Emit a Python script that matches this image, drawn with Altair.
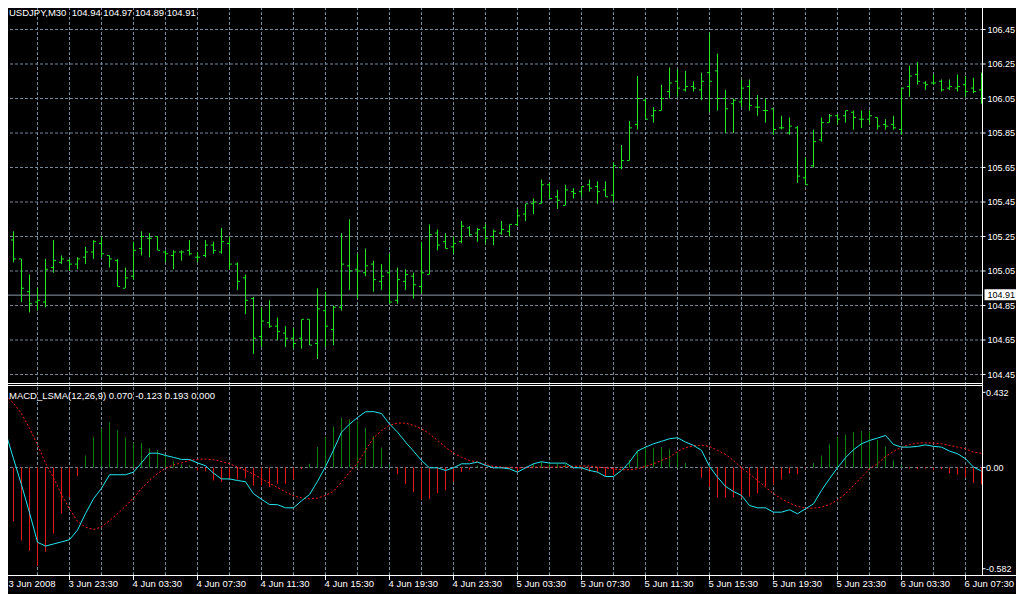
import altair as alt
import pandas as pd

# ---------------- data (USDJPY M30, 3 Jun 2008 19:30 .. 6 Jun 2008 08:30) ----------------
opens = [105.25, 105.23, 105.12, 104.93, 104.87, 104.87, 105.07, 105.10, 105.11, 105.09,
         105.13, 105.16, 105.21, 105.14, 105.11, 104.95, 105.02, 105.18, 105.24, 105.25,
         105.16, 105.14, 105.16, 105.17, 105.13, 105.14, 105.20, 105.16, 105.21, 105.09,
         105.01, 104.89, 104.67, 104.75, 104.73, 104.69, 104.66, 104.66, 104.77, 104.63,
         104.82, 104.71, 104.84, 105.08, 105.06, 105.04, 105.09, 104.99, 105.04, 104.88,
         104.99, 105.02, 104.96, 105.03, 105.27, 105.22, 105.19, 105.22, 105.30, 105.27,
         105.30, 105.25, 105.27, 105.28, 105.32, 105.38, 105.44, 105.44, 105.55, 105.48,
         105.43, 105.51, 105.51, 105.55, 105.54, 105.52, 105.49, 105.65, 105.69, 105.90,
         106.04, 105.95, 105.98, 106.09, 106.15, 106.10, 106.12, 106.10, 106.20, 106.21,
         106.05, 106.02, 106.03, 106.12, 106.00, 105.98, 105.99, 105.88, 105.85, 105.88,
         105.59, 105.66, 105.81, 105.91, 105.95, 105.95, 105.97, 105.93, 105.93, 105.94,
         105.90, 105.90, 105.87, 106.12, 106.19, 106.14, 106.14, 106.15, 106.11, 106.11,
         106.13, 106.11, 106.10]
highs = [105.31, 105.28, 105.12, 105.03, 104.95, 105.12, 105.23, 105.14, 105.12, 105.13,
         105.19, 105.23, 105.25, 105.14, 105.12, 105.07, 105.22, 105.28, 105.27, 105.25,
         105.17, 105.17, 105.17, 105.23, 105.16, 105.23, 105.22, 105.30, 105.25, 105.10,
         105.03, 104.90, 104.84, 104.88, 104.78, 104.73, 104.72, 104.77, 104.77, 104.95,
         104.93, 104.85, 105.27, 105.35, 105.15, 105.18, 105.11, 105.09, 105.15, 105.07,
         105.06, 105.04, 105.22, 105.32, 105.29, 105.27, 105.25, 105.34, 105.31, 105.30,
         105.32, 105.29, 105.34, 105.32, 105.41, 105.44, 105.47, 105.58, 105.56, 105.52,
         105.55, 105.53, 105.54, 105.58, 105.57, 105.57, 105.68, 105.78, 105.92, 106.18,
         106.05, 106.00, 106.13, 106.23, 106.22, 106.21, 106.15, 106.20, 106.43, 106.31,
         106.10, 106.05, 106.16, 106.16, 106.07, 106.05, 105.99, 105.95, 105.94, 105.89,
         105.71, 105.87, 105.94, 105.96, 105.96, 105.98, 105.98, 105.98, 105.98, 105.94,
         105.93, 105.95, 106.11, 106.24, 106.26, 106.15, 106.19, 106.16, 106.16, 106.19,
         106.18, 106.17, 106.20]
lows = [105.21, 105.10, 104.87, 104.81, 104.82, 104.84, 105.04, 105.09, 105.05, 105.06,
        105.09, 105.12, 105.13, 105.07, 104.96, 104.95, 105.00, 105.14, 105.13, 105.17,
        105.10, 105.06, 105.11, 105.14, 105.10, 105.13, 105.15, 105.15, 105.06, 104.94,
        104.80, 104.57, 104.61, 104.72, 104.65, 104.61, 104.60, 104.60, 104.62, 104.54,
        104.61, 104.62, 104.82, 104.94, 104.89, 105.02, 104.93, 104.94, 104.86, 104.86,
        104.94, 104.89, 104.92, 105.03, 105.17, 105.18, 105.15, 105.21, 105.25, 105.22,
        105.21, 105.20, 105.26, 105.25, 105.31, 105.34, 105.38, 105.44, 105.47, 105.41,
        105.43, 105.47, 105.48, 105.51, 105.44, 105.48, 105.45, 105.64, 105.69, 105.87,
        105.93, 105.91, 105.98, 106.05, 106.06, 106.09, 106.09, 106.04, 105.97, 105.98,
        105.85, 105.85, 106.00, 105.98, 105.95, 105.91, 105.84, 105.87, 105.84, 105.56,
        105.55, 105.65, 105.80, 105.91, 105.90, 105.91, 105.87, 105.88, 105.90, 105.87,
        105.87, 105.87, 105.84, 106.06, 106.13, 106.10, 106.13, 106.09, 106.10, 106.09,
        106.06, 106.08, 106.02]
closes = [105.24, 105.12, 104.95, 104.86, 104.88, 105.06, 105.11, 105.12, 105.09, 105.12,
          105.16, 105.22, 105.15, 105.12, 104.96, 105.01, 105.17, 105.25, 105.24, 105.17,
          105.15, 105.16, 105.16, 105.15, 105.13, 105.20, 105.17, 105.22, 105.09, 104.99,
          104.88, 104.66, 104.76, 104.73, 104.70, 104.66, 104.63, 104.77, 104.62, 104.83,
          104.73, 104.84, 105.09, 105.05, 105.05, 105.08, 105.00, 105.02, 104.87, 105.00,
          105.03, 104.97, 105.04, 105.26, 105.20, 105.18, 105.21, 105.31, 105.26, 105.29,
          105.24, 105.28, 105.29, 105.32, 105.37, 105.44, 105.45, 105.55, 105.47, 105.46,
          105.52, 105.50, 105.54, 105.53, 105.51, 105.48, 105.66, 105.69, 105.88, 106.05,
          105.93, 105.98, 106.05, 106.14, 106.11, 106.12, 106.11, 106.15, 106.15, 106.05,
          105.99, 106.04, 106.11, 106.01, 106.00, 105.98, 105.87, 105.88, 105.89, 105.60,
          105.55, 105.80, 105.91, 105.95, 105.93, 105.98, 105.94, 105.93, 105.95, 105.89,
          105.89, 105.88, 106.11, 106.18, 106.15, 106.13, 106.14, 106.10, 106.12, 106.12,
          106.09, 106.09, 106.05]

macd_main = [0.203, 0.050, -0.100, -0.260, -0.430, -0.452, -0.440, -0.428, -0.415, -0.360,
             -0.265, -0.180, -0.120, -0.042, -0.042, -0.042, -0.027, 0.027, 0.082, 0.082,
             0.069, 0.058, 0.046, 0.046, 0.026, 0.010, -0.033, -0.066, -0.066, -0.075,
             -0.082, -0.151, -0.183, -0.213, -0.214, -0.232, -0.232, -0.192, -0.156, -0.080,
             0.005, 0.100, 0.203, 0.249, 0.287, 0.320, 0.321, 0.310, 0.250, 0.203,
             0.146, 0.094, 0.040, -0.002, -0.002, -0.017, -0.002, 0.021, 0.021, 0.031,
             0.012, -0.002, -0.002, -0.008, -0.027, -0.002, 0.021, 0.033, 0.025, 0.025,
             0.025, -0.002, -0.002, -0.017, -0.027, -0.052, -0.052, -0.017, 0.031, 0.094,
             0.117, 0.136, 0.150, 0.165, 0.171, 0.146, 0.127, 0.098, 0.006, -0.056,
             -0.109, -0.138, -0.161, -0.219, -0.232, -0.232, -0.257, -0.257, -0.243, -0.266,
             -0.238, -0.209, -0.132, -0.065, -0.002, 0.056, 0.102, 0.136, 0.155, 0.169,
             0.184, 0.132, 0.117, 0.117, 0.121, 0.130, 0.121, 0.117, 0.094, 0.079,
             0.050, 0.002, -0.021]
macd_signal = [0.414, 0.370, 0.310, 0.225, 0.130, 0.025, -0.060, -0.155, -0.238, -0.310,
               -0.343, -0.357, -0.342, -0.305, -0.266, -0.223, -0.175, -0.122, -0.075, -0.035,
               -0.005, 0.015, 0.026, 0.040, 0.047, 0.048, 0.045, 0.034, 0.022, 0.002,
               -0.017, -0.038, -0.065, -0.091, -0.115, -0.140, -0.163, -0.175, -0.180, -0.176,
               -0.161, -0.137, -0.084, -0.028, 0.026, 0.098, 0.170, 0.212, 0.242, 0.255,
               0.255, 0.242, 0.222, 0.194, 0.155, 0.117, 0.082, 0.059, 0.040, 0.031,
               0.017, 0.006, 0.002, -0.002, -0.002, -0.002, 0.002, 0.002, 0.002, 0.002,
               0.006, 0.006, 0.008, 0.008, 0.002, -0.002, -0.008, -0.013, -0.013, -0.008,
               0.006, 0.021, 0.040, 0.059, 0.092, 0.113, 0.125, 0.128, 0.121, 0.098,
               0.075, 0.040, -0.002, -0.036, -0.075, -0.113, -0.151, -0.180, -0.205, -0.224,
               -0.234, -0.234, -0.228, -0.213, -0.186, -0.151, -0.104, -0.056, -0.008, 0.021,
               0.063, 0.092, 0.117, 0.132, 0.140, 0.142, 0.140, 0.136, 0.127, 0.117,
               0.107, 0.088, 0.082]
macd_hist = [-0.203, -0.309, -0.420, -0.479, -0.566, -0.485, -0.380, -0.265, -0.172, -0.050,
             0.069, 0.174, 0.222, 0.261, 0.215, 0.172, 0.140, 0.140, 0.111, 0.100,
             0.069, 0.035, 0.017, 0.012, -0.017, -0.023, -0.075, -0.084, -0.065, -0.069,
             -0.061, -0.104, -0.104, -0.113, -0.094, -0.094, -0.069, -0.008, 0.021, 0.117,
             0.174, 0.236, 0.286, 0.276, 0.265, 0.228, 0.180, 0.115, 0.015, -0.040,
             -0.095, -0.142, -0.184, -0.182, -0.147, -0.132, -0.084, -0.027, -0.013, 0.012,
             -0.004, -0.006, -0.004, -0.006, -0.025, -0.002, 0.019, 0.031, 0.023, 0.023,
             0.019, -0.008, -0.010, -0.025, -0.029, -0.050, -0.044, -0.004, 0.044, 0.098,
             0.115, 0.113, 0.117, 0.107, 0.088, 0.025, 0.002, -0.060, -0.111, -0.174,
             -0.174, -0.171, -0.174, -0.167, -0.148, -0.109, -0.098, -0.069, -0.033, -0.040,
             -0.004, 0.025, 0.069, 0.132, 0.174, 0.190, 0.203, 0.209, 0.209, 0.159,
             0.121, 0.040, 0.012, -0.006, -0.010, -0.006, -0.013, -0.010, -0.033, -0.042,
             -0.056, -0.090, -0.098]

price_ticks = [106.45, 106.25, 106.05, 105.85, 105.65, 105.45, 105.25, 105.05, 104.85, 104.65, 104.45]
price_labels = ["106.45", "106.25", "106.05", "105.85", "105.65", "105.45",
                "105.25", "105.05", "104.85", "104.65", "104.45"]
bid_price = [104.91]
bid_label = ["104.91"]
macd_ticks = [0.432, 0.0, -0.582]
macd_labels = ["0.432", "0.00", "-0.582"]
time_bars = [0, 8, 16, 24, 32, 40, 48, 56, 64, 72, 80, 88, 96, 104, 112, 120]
time_labels = ["3 Jun 2008", "3 Jun 23:30", "4 Jun 03:30", "4 Jun 07:30", "4 Jun 11:30",
               "4 Jun 15:30", "4 Jun 19:30", "4 Jun 23:30", "5 Jun 03:30", "5 Jun 07:30",
               "5 Jun 11:30", "5 Jun 15:30", "5 Jun 19:30", "5 Jun 23:30", "6 Jun 03:30",
               "6 Jun 07:30"]
grid_bars = list(range(4, 121, 4))
header_text = ["USDJPY,M30\u00a0 104.94 104.97 104.89 104.91"]
macd_title = ["MACD_LSMA(12,26,9) 0.070 -0.123 0.193 0.000"]

# ---------------- styling ----------------
W, H = 977, 573
GRID = "#778899"
BAR = "#22e822"
CYAN = "#22e6ee"
SIGRED = "#ff1a1a"
HGREEN = "#0b7f0b"
HRED = "#e61414"
FONT = "Liberation Sans"
FS = 9.5
FS_AX = 9

n = len(opens)
bars = pd.DataFrame({
    "k": list(range(n)), "open": opens, "high": highs, "low": lows, "close": closes,
    "macd": macd_main, "signal": macd_signal, "hist": macd_hist,
})
bars["base"] = 0.0

xs = alt.Scale(domain=[-0.0625, 122.0625], range=[0, W], nice=False, zero=False)
ps = alt.Scale(domain=[104.45, 106.45], range=[372.5, 27.5], nice=False, zero=False)
ms = alt.Scale(domain=[-0.582, 0.432], range=[566.7, 390.3], nice=False, zero=False)

X = alt.X("k:Q", scale=xs, axis=None)

def P(field):
    return alt.Y(field, scale=ps, axis=None)

def M(field):
    return alt.Y(field, scale=ms, axis=None)

grid_df = pd.DataFrame({"k": grid_bars})
pt_df = pd.DataFrame({"p": price_ticks, "lab": price_labels})
bid_df = pd.DataFrame({"p": bid_price, "lab": bid_label})
mt_df = pd.DataFrame({"v": macd_ticks, "lab": macd_labels})
zero_df = pd.DataFrame({"v": [0.0]})
time_df = pd.DataFrame({"k": time_bars, "lab": time_labels})
one = pd.DataFrame({"a": [0]})

vgrid = alt.Chart(grid_df).mark_rule(color=GRID, strokeDash=[3, 2], strokeWidth=1).encode(
    x=X, y=alt.value(0), y2=alt.value(573))
hgrid = alt.Chart(pt_df).mark_rule(color=GRID, strokeDash=[3, 2], strokeWidth=1).encode(
    y=P("p:Q"), x=alt.value(0), x2=alt.value(W))
zline = alt.Chart(zero_df).mark_rule(color=GRID, strokeDash=[3, 2], strokeWidth=1).encode(
    y=M("v:Q"), x=alt.value(0), x2=alt.value(W))
bidline = alt.Chart(bid_df).mark_rule(color="#8f99a3", strokeWidth=1).encode(
    y=P("p:Q"), x=alt.value(0), x2=alt.value(W))

hl = alt.Chart(bars).mark_rule(color=BAR, strokeWidth=1).encode(x=X, y=P("low:Q"), y2="high:Q")
op = alt.Chart(bars).mark_rule(color=BAR, strokeWidth=1, xOffset=-2.5, x2Offset=-0.5).encode(
    x=X, x2="k:Q", y=P("open:Q"))
cl = alt.Chart(bars).mark_rule(color=BAR, strokeWidth=1, xOffset=0.5, x2Offset=2.5).encode(
    x=X, x2="k:Q", y=P("close:Q"))

histo = alt.Chart(bars).mark_rule(strokeWidth=1).encode(
    x=X, y=M("hist:Q"), y2="base:Q",
    color=alt.condition("datum.hist > 0", alt.value(HGREEN), alt.value(HRED)))
mline = alt.Chart(bars).mark_line(color=CYAN, strokeWidth=1).encode(x=X, y=M("macd:Q"))
sline = alt.Chart(bars).mark_line(color=SIGRED, strokeWidth=1, strokeDash=[2, 2]).encode(
    x=X, y=M("signal:Q"))

white = "#ffffff"
frame_main_bottom = alt.Chart(one).mark_rule(color=white).encode(
    x=alt.value(0), x2=alt.value(W + 1), y=alt.value(381.5))
frame_macd_top = alt.Chart(one).mark_rule(color=white).encode(
    x=alt.value(0), x2=alt.value(W + 1), y=alt.value(383.5))
frame_bottom = alt.Chart(one).mark_rule(color=white).encode(
    x=alt.value(0), x2=alt.value(1030), y=alt.value(573.5))
frame_right = alt.Chart(one).mark_rule(color=white).encode(
    x=alt.value(977.5), y=alt.value(0), y2=alt.value(574))

ptick = alt.Chart(pt_df).mark_rule(color=white).encode(
    y=P("p:Q"), x=alt.value(977.5), x2=alt.value(980.5))
ptext = alt.Chart(pt_df).mark_text(align="left", baseline="alphabetic", dy=3, color=white,
                                   font=FONT, fontSize=FS_AX).encode(
    x=alt.value(982.5), y=P("p:Q"), text="lab:N")
bidbox = alt.Chart(bid_df).mark_rect(color=white, yOffset=-6, y2Offset=5).encode(
    x=alt.value(979.5), x2=alt.value(1014.5), y=P("p:Q"), y2="p:Q")
bidtext = alt.Chart(bid_df).mark_text(align="left", baseline="alphabetic", dy=3, color="#000000",
                                      font=FONT, fontSize=FS_AX).encode(
    x=alt.value(982.5), y=P("p:Q"), text="lab:N")

mtick = alt.Chart(mt_df).mark_rule(color=white).encode(
    y=M("v:Q"), x=alt.value(977.5), x2=alt.value(980.5))
mtext = alt.Chart(mt_df).mark_text(align="left", baseline="alphabetic", dy=3.5, color=white,
                                   font=FONT, fontSize=FS_AX).encode(
    x=alt.value(981), y=M("v:Q"), text="lab:N")

ttext_first = alt.Chart(time_df).transform_filter("datum.k == 0").mark_text(
    align="left", baseline="alphabetic", dx=3, color=white, font=FONT, fontSize=FS).encode(
    x=X, y=alt.value(585), text="lab:N")
ttext = alt.Chart(time_df).transform_filter("datum.k > 0").mark_text(
    align="left", baseline="alphabetic", dx=-1, color=white, font=FONT, fontSize=FS).encode(
    x=X, y=alt.value(585), text="lab:N")
ttick = alt.Chart(time_df).mark_rule(color=white).encode(
    x=X, y=alt.value(574), y2=alt.value(578))

head = alt.Chart(pd.DataFrame({"t": header_text})).mark_text(
    align="left", baseline="alphabetic", color=white, font=FONT, fontSize=FS).encode(
    x=alt.value(4), y=alt.value(13.5), text="t:N")
mtitle = alt.Chart(pd.DataFrame({"t": macd_title})).mark_text(
    align="left", baseline="alphabetic", color=white, font=FONT, fontSize=FS).encode(
    x=alt.value(4), y=alt.value(397), text="t:N")

chart = alt.layer(
    vgrid, hgrid, zline, bidline,
    hl, op, cl,
    histo, sline, mline,
    frame_main_bottom, frame_macd_top, frame_bottom, frame_right,
    ptick, ptext, bidbox, bidtext, mtick, mtext, ttext_first, ttext, ttick,
    head, mtitle,
).resolve_scale(y="independent").properties(
    width=W, height=H, background="#000000",
    padding={"left": -3, "top": -6, "right": 34, "bottom": 21},
    autosize=alt.AutoSizeParams(type="none"),
).configure_view(stroke=None)

chart.save("out.html", embed_options={"renderer": "svg", "actions": False})
